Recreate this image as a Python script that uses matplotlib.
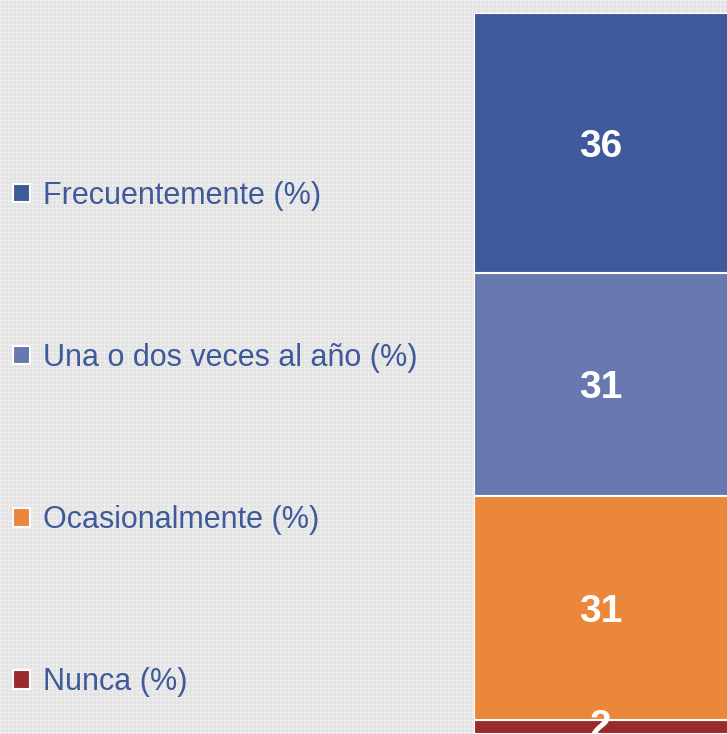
import numpy as np
from matplotlib import pyplot as plt

plt.rcParams['font.family'] = ['Liberation Sans', 'DejaVu Sans']

categorias = ['Nunca (%)', 'Ocasionalmente (%)', 'Una o dos veces al año (%)', 'Frecuentemente (%)']
valores = [2, 31, 31, 36]
colores = ['#9B2A2B', '#EB873A', '#6879AF', '#3F5A9A']

fig = plt.figure(figsize=(7.27, 7.34), dpi=100)

# fondo con textura de rejilla
fondo = fig.add_axes([0, 0, 1, 1])
tx = np.full((734, 727), 0.885)
tx[:, ::4] = 0.925
tx[::4, :] = 0.925
tx[1::8, 1::8] = 0.95
fondo.imshow(tx, cmap='gray', vmin=0, vmax=1, aspect='auto', interpolation='nearest')
fondo.axis('off')

ax = fig.add_axes([474 / 727, 0, 1 - 474 / 727, 1 - 13 / 734])
ax.set_facecolor('none')

base = 0
barras = []
for cat, v, c in zip(categorias, valores, colores):
    b = ax.bar(0, v, bottom=base, width=1.0, color=c, edgecolor='white', linewidth=1.5, label=cat)
    etiquetas = ax.bar_label(b, labels=[str(v)], label_type='center', color='white',
                             fontsize=28, fontweight='bold')
    if v >= 5:
        for e in etiquetas:
            e.set_va('center_baseline')
    barras.append(b)
    base += v

ax.set_xlim(-0.5, -0.5 + 253 / 262)
ax.set_ylim(0, 100)
ax.axis('off')

handles = [b.patches[0] for b in barras][::-1]
labels = categorias[::-1]
leg = fig.legend(handles, labels, loc='center left', bbox_to_anchor=(13 / 727, 1 - 439 / 734),
                 frameon=False, fontsize=22, labelspacing=4.33, handlelength=0.55,
                 handleheight=0.55, handletextpad=0.42, borderpad=0, borderaxespad=0)
for t in leg.get_texts():
    t.set_color('#3F5A9A')

fig.savefig('out.png', dpi=100)
